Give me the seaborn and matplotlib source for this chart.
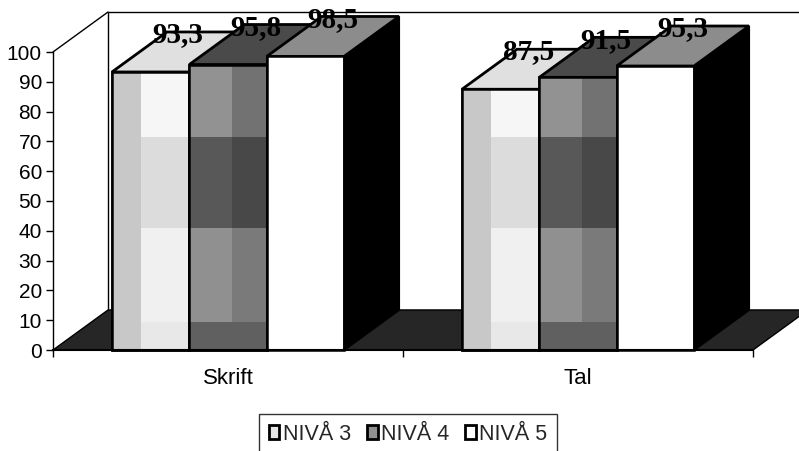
import numpy as np
import pandas as pd
import matplotlib
matplotlib.use("Agg")
import matplotlib.pyplot as plt
import seaborn as sns
from matplotlib.patches import Polygon, Patch, Rectangle

# ---- data ----
categories = ["Skrift", "Tal"]
levels = ["NIVÅ 3", "NIVÅ 4", "NIVÅ 5"]
niva3 = [93.3, 87.5]
niva4 = [95.8, 91.5]
niva5 = [98.5, 95.3]
y_ticks = [0, 10, 20, 30, 40, 50, 60, 70, 80, 90, 100]

df = pd.DataFrame({
    "Kategori": categories * 3,
    "Nivå": [lv for lv in levels for _ in categories],
    "Procent": niva3 + niva4 + niva5,
})

front_colors = ["#ececec", "#858585", "#ffffff"]
top_colors = ["#e0e0e0", "#4a4a4a", "#8c8c8c"]
side_colors = ["#b0b0b0", "#303030", "#000000"]

# shading bands of the scanned print (x fraction range, y range, colour)
bands = {
    0: [(0.0, 0.38, 0, 200, "#c8c8c8"),
        (0.38, 1.0, 71.5, 200, "#f6f6f6"),
        (0.38, 1.0, 41, 71.5, "#dcdcdc"),
        (0.38, 1.0, 9.4, 41, "#f0f0f0"),
        (0.38, 1.0, 0, 9.4, "#e8e8e8")],
    1: [(0.0, 0.55, 71.5, 200, "#929292"),
        (0.55, 1.0, 71.5, 200, "#727272"),
        (0.0, 0.55, 41, 71.5, "#585858"),
        (0.55, 1.0, 41, 71.5, "#484848"),
        (0.0, 0.55, 9.4, 41, "#909090"),
        (0.55, 1.0, 9.4, 41, "#7a7a7a"),
        (0.0, 1.0, 0, 9.4, "#606060")],
    2: [],
}

sns.set_style("white")
plt.rcParams['font.family'] = ['Liberation Sans', 'DejaVu Sans']

W, H = 799, 451
fig = plt.figure(figsize=(W / 100, H / 100), dpi=100)
AX_L, AX_B, AX_W, AX_H = 53, 101, 700, 298
ax = fig.add_axes([AX_L / W, AX_B / H, AX_W / W, AX_H / H])

sns.barplot(data=df, x="Kategori", y="Procent", hue="Nivå", hue_order=levels,
            order=categories, palette=front_colors, saturation=1, width=0.663,
            edgecolor="black", linewidth=1.8, legend=False, ax=ax, errorbar=None)

ax.set_xlim(-0.5, 1.5)
ax.set_ylim(0, 100)
ax.set_xlabel("")
ax.set_ylabel("")

# depth offsets (pixels -> data)
DX_PX, DY_PX = 55, 40
ddx = DX_PX * 2.0 / AX_W
ddy = DY_PX * 100.0 / AX_H

bars = sorted(list(ax.patches), key=lambda p: p.get_x())

# back wall
x0w, x1w = -0.5, 1.5
wall = Polygon([(x0w + ddx, ddy), (x0w + ddx, 100 + ddy), (x1w + ddx, 100 + ddy), (x1w + ddx, ddy)],
               closed=True, facecolor="white", edgecolor="black", linewidth=1.0,
               clip_on=False, zorder=0.5)
ax.add_patch(wall)
ax.plot([x0w, x0w + ddx], [100, 100 + ddy], color="black", lw=1.0, clip_on=False, zorder=0.6)
# floor
floor = Polygon([(x0w, 0), (x0w + ddx, ddy), (x1w + ddx, ddy), (x1w, 0)], closed=True,
                facecolor="#262626", edgecolor="black", linewidth=1.0, clip_on=False, zorder=1)
ax.add_patch(floor)

# 3D faces built from the seaborn bars
for k, p in enumerate(bars):
    lv = k % 3
    x0 = p.get_x()
    w = p.get_width()
    h = p.get_height()
    x1 = x0 + w
    base_z = 2 + 3 * k
    side = Polygon([(x1, 0), (x1 + ddx, ddy), (x1 + ddx, h + ddy), (x1, h)], closed=True,
                   facecolor=side_colors[lv], edgecolor="black", linewidth=1.5,
                   clip_on=False, zorder=base_z)
    top = Polygon([(x0, h), (x0 + ddx, h + ddy), (x1 + ddx, h + ddy), (x1, h)], closed=True,
                  facecolor=top_colors[lv], edgecolor="black", linewidth=2.0,
                  clip_on=False, zorder=base_z)
    ax.add_patch(side)
    ax.add_patch(top)
    p.set_zorder(base_z + 1)
    p.set_clip_on(False)
    for (f0, f1, ya, yb, col) in bands[lv]:
        yb2 = min(yb, h)
        if yb2 <= ya:
            continue
        ax.add_patch(Rectangle((x0 + f0 * w, ya), (f1 - f0) * w, yb2 - ya, facecolor=col,
                               edgecolor="none", clip_on=False, zorder=base_z + 1.3))
    ax.add_patch(Rectangle((x0, 0), w, h, facecolor="none", edgecolor="black",
                           linewidth=1.8 if lv < 2 else 1.2, clip_on=False, zorder=base_z + 1.6))
    ax.annotate(f"{h:.1f}".replace(".", ","), xy=(x0 + w / 2 + ddx / 2, h + ddy / 2),
                xytext=(0, 7), textcoords="offset points", ha="center", va="baseline",
                fontsize=21, fontweight="bold", family=["Liberation Serif", "DejaVu Serif"],
                color="black", zorder=80, annotation_clip=False)

# axes styling
for s in ["top", "right"]:
    ax.spines[s].set_visible(False)
ax.spines["left"].set_color("black")
ax.spines["left"].set_linewidth(1.0)
ax.spines["bottom"].set_color("black")
ax.spines["bottom"].set_linewidth(1.5)
ax.spines["left"].set_zorder(90)
ax.spines["bottom"].set_zorder(90)

ax.set_yticks(y_ticks)
ax.set_yticklabels([str(t) for t in y_ticks])
ax.tick_params(axis="y", left=True, length=5, width=1, color="black", labelsize=15, pad=3,
               labelcolor="black")
ax.set_xticks([0, 1])
ax.set_xticklabels(categories)
ax.tick_params(axis="x", which="major", bottom=False, length=0, labelsize=16, pad=13,
               labelcolor="black")
ax.set_xticks([-0.5, 0.5, 1.5], minor=True)
ax.tick_params(axis="x", which="minor", bottom=True, length=5, width=1, color="black")
ax.set_facecolor("none")
fig.patch.set_facecolor("white")

handles = [Patch(facecolor=c, edgecolor="black", linewidth=2.0) for c in ["#e6e6e6", "#909090", "#ffffff"]]
leg = fig.legend(handles, levels, loc="center", bbox_to_anchor=(408 / W, 1 - 434 / H), ncol=3,
                 frameon=True, fancybox=False, edgecolor="black", fontsize=15.5,
                 handlelength=0.5, handleheight=0.6, handletextpad=0.15, columnspacing=0.75,
                 borderpad=0.45, borderaxespad=0)
leg.get_frame().set_linewidth(1.0)

fig.savefig("out.png", dpi=100)
